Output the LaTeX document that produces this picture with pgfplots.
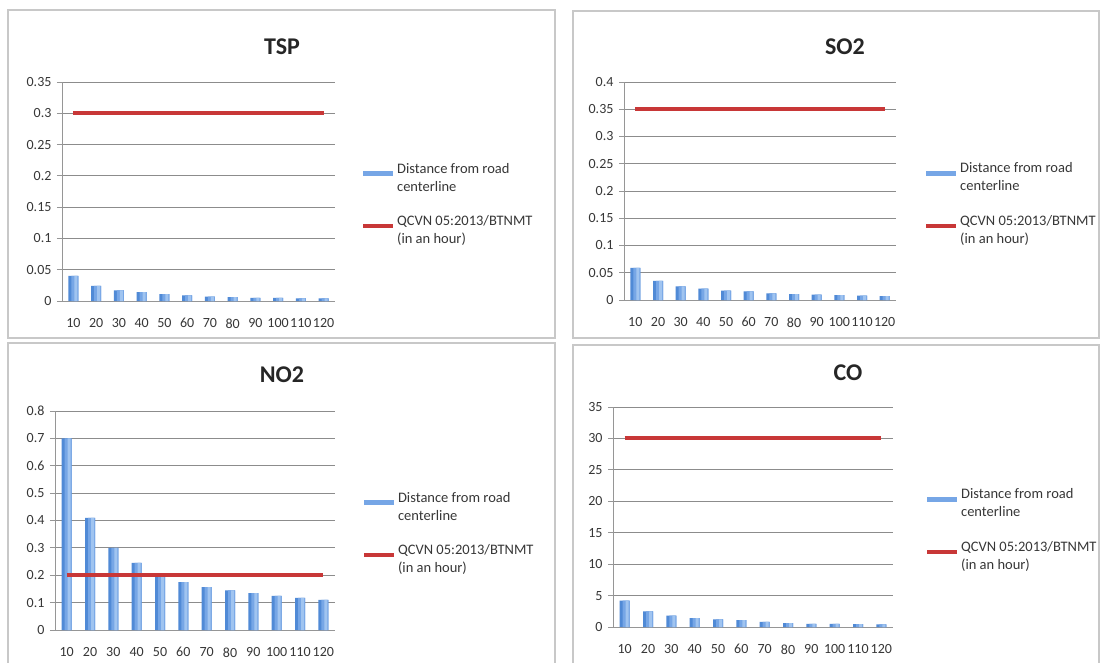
\documentclass[border=0pt]{standalone}
\usepackage{fontspec}
\setmainfont{Carlito}
\usepackage{pgfplots}
\pgfplotsset{compat=1.18}
\definecolor{barA}{RGB}{80,138,214}
\definecolor{barM}{RGB}{118,166,230}
\definecolor{barB}{RGB}{160,196,240}
\definecolor{redl}{RGB}{200,55,55}
\definecolor{gridc}{RGB}{140,140,140}
\definecolor{axc}{RGB}{150,150,150}
\definecolor{framec}{RGB}{200,200,200}
\definecolor{txt}{RGB}{55,55,55}
\pgfplotsset{
  panel/.style={
    scale only axis,
    anchor=south west,
    xmin=0.5, xmax=12.5, ymin=0,
    xtick={1,...,12},
    xticklabels={10,20,30,40,50,60,70,80,90,100,110,120},
    axis lines=left,
    axis line style={-, draw=axc, line width=0.9pt},
    ymajorgrids,
    grid style={gridc, line width=0.8pt},
    xtick style={draw=none},
    ytick style={draw=axc, line width=0.8pt},
    tick align=outside,
    major tick length=5pt,
    tick label style={font=\fontsize{14}{14}\selectfont, text=txt},
    /pgf/number format/assume math mode=true,
    yticklabel style={xshift=-2pt},
    xticklabel style={yshift=-9pt},
    clip=false,
    legend style={draw=none, fill=none, anchor=north west,
      font=\fontsize{14.5}{18}\selectfont, text=txt,
      cells={anchor=west, align=left}, row sep=19pt, inner sep=0pt},
  },
  bars/.style={ybar, bar width=10pt, bar shift=0pt, draw=none, fill=barA,
    legend image code/.code={\fill[barM] (0pt,1.5pt) rectangle (30pt,6.5pt);}},
  barsmid/.style={ybar, bar width=7pt, bar shift=1.5pt, draw=none, fill=barM, forget plot},
  barshi/.style={ybar, bar width=3pt, bar shift=2.5pt, draw=none, fill=barB, forget plot},
  limit/.style={redl, line width=4pt, mark=none,
    legend image code/.code={\draw[redl, line width=4pt] (0pt,4pt) -- (30pt,4pt);}},
}
\pgfplotstableread{
x tsp so2 no2 co
1 0.040 0.059 0.700 4.2
2 0.024 0.035 0.410 2.5
3 0.017 0.025 0.300 1.8
4 0.014 0.021 0.245 1.4
5 0.011 0.017 0.200 1.2
6 0.009 0.016 0.175 1.1
7 0.007 0.012 0.157 0.8
8 0.006 0.011 0.145 0.6
9 0.005 0.010 0.135 0.5
10 0.005 0.009 0.125 0.5
11 0.004 0.008 0.117 0.45
12 0.004 0.007 0.110 0.4
}\data
\begin{document}
\begin{tikzpicture}
\useasboundingbox (0pt,0pt) rectangle (1101pt,-663pt);
\fill[white] (0pt,0pt) rectangle (1101pt,-663pt);
\draw[framec, line width=1.5pt] (8pt,-10pt) rectangle (555pt,-338pt);
\draw[framec, line width=1.5pt] (573pt,-11pt) rectangle (1099pt,-338pt);
\draw[framec, line width=1.5pt] (8pt,-343pt) rectangle (555pt,-680pt);
\draw[framec, line width=1.5pt] (573pt,-345pt) rectangle (1099pt,-680pt);

\node[font=\bfseries\fontsize{24}{24}\selectfont, text=black!85] at (282pt,-47pt) {TSP};
\node[font=\bfseries\fontsize{24}{24}\selectfont, text=black!85] at (845pt,-47pt) {SO2};
\node[font=\bfseries\fontsize{24}{24}\selectfont, text=black!85] at (282pt,-375pt) {NO2};
\node[font=\bfseries\fontsize{24}{24}\selectfont, text=black!85] at (848pt,-373pt) {CO};

% TSP
\begin{axis}[panel, at={(62pt,-301pt)}, width=273pt, height=219pt, ymax=0.35,
  ytick={0,0.05,0.1,0.15,0.2,0.25,0.3,0.35},
  yticklabels={0,0.05,0.1,0.15,0.2,0.25,0.3,0.35},
  legend style={at={(axis description cs:1.095,0.64)}}]
\addplot[bars] table[x=x, y=tsp] {\data};
\addlegendentry{Distance from road\\centerline}
\addplot[barsmid] table[x=x, y=tsp] {\data};
\addplot[barshi] table[x=x, y=tsp] {\data};
\addplot[limit] coordinates {(1,0.3) (12,0.3)};
\addlegendentry{QCVN 05:2013/BTNMT\\(in an hour)}
\end{axis}

% SO2
\begin{axis}[panel, at={(624pt,-300pt)}, width=272pt, height=218pt, ymax=0.4,
  ytick={0,0.05,0.1,0.15,0.2,0.25,0.3,0.35,0.4},
  yticklabels={0,0.05,0.1,0.15,0.2,0.25,0.3,0.35,0.4},
  legend style={at={(axis description cs:1.103,0.64)}}]
\addplot[bars] table[x=x, y=so2] {\data};
\addlegendentry{Distance from road\\centerline}
\addplot[barsmid] table[x=x, y=so2] {\data};
\addplot[barshi] table[x=x, y=so2] {\data};
\addplot[limit] coordinates {(1,0.35) (12,0.35)};
\addlegendentry{QCVN 05:2013/BTNMT\\(in an hour)}
\end{axis}

% NO2
\begin{axis}[panel, at={(55pt,-630pt)}, width=280pt, height=219pt, ymax=0.8,
  ytick={0,0.1,0.2,0.3,0.4,0.5,0.6,0.7,0.8},
  yticklabels={0,0.1,0.2,0.3,0.4,0.5,0.6,0.7,0.8},
  legend style={at={(axis description cs:1.096,0.64)}}]
\addplot[bars] table[x=x, y=no2] {\data};
\addlegendentry{Distance from road\\centerline}
\addplot[barsmid] table[x=x, y=no2] {\data};
\addplot[barshi] table[x=x, y=no2] {\data};
\addplot[limit] coordinates {(1,0.2) (12,0.2)};
\addlegendentry{QCVN 05:2013/BTNMT\\(in an hour)}
\end{axis}

% CO
\begin{axis}[panel, at={(613pt,-627pt)}, width=280pt, height=220pt, ymax=35,
  ytick={0,5,10,15,20,25,30,35},
  yticklabels={0,5,10,15,20,25,30,35},
  legend style={at={(axis description cs:1.114,0.64)}}]
\addplot[bars] table[x=x, y=co] {\data};
\addlegendentry{Distance from road\\centerline}
\addplot[barsmid] table[x=x, y=co] {\data};
\addplot[barshi] table[x=x, y=co] {\data};
\addplot[limit] coordinates {(1,30) (12,30)};
\addlegendentry{QCVN 05:2013/BTNMT\\(in an hour)}
\end{axis}
\end{tikzpicture}
\end{document}
